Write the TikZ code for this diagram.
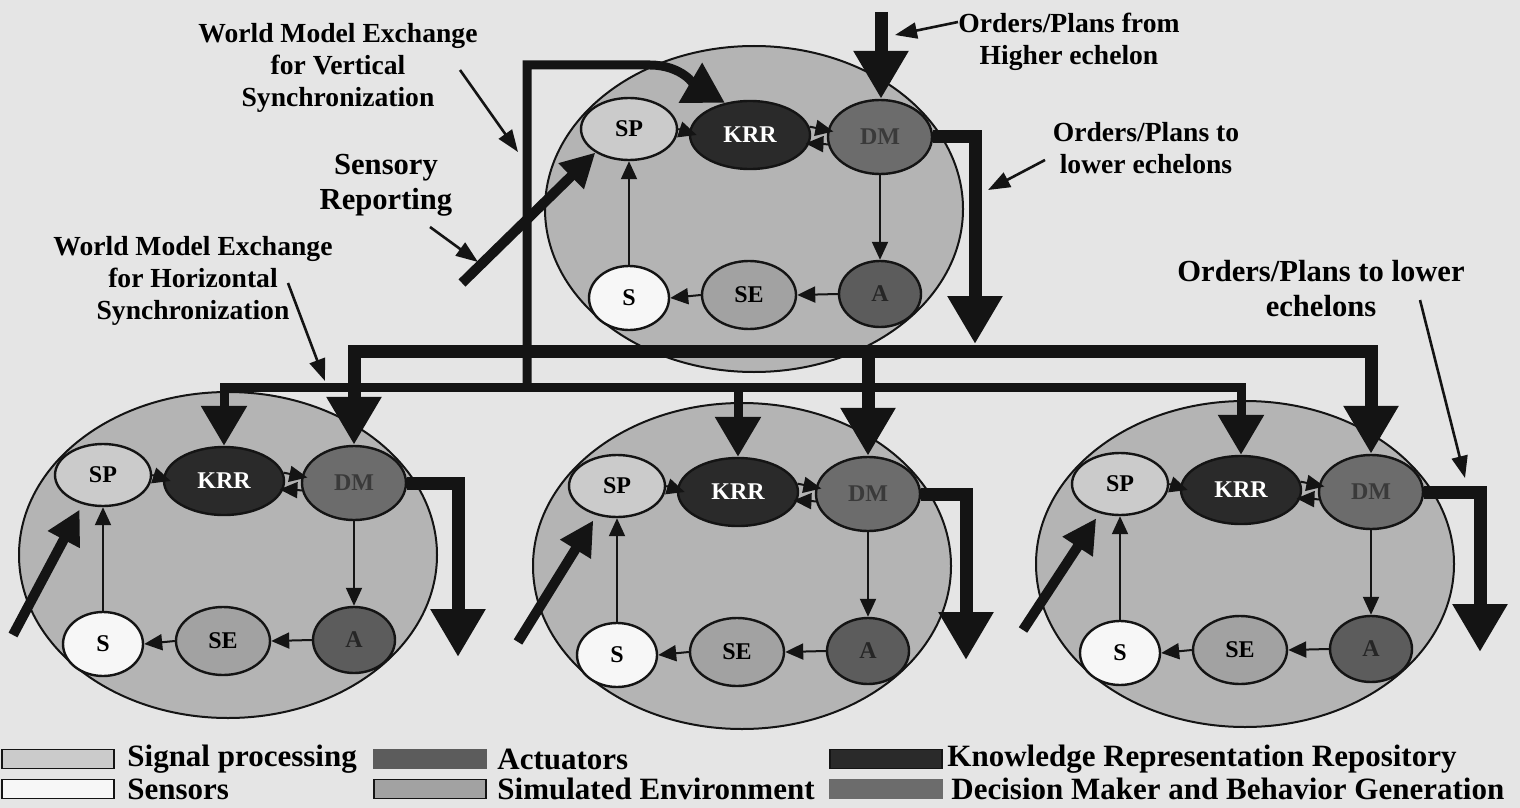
\documentclass[tikz,border=0pt]{standalone}
\usepackage{fontspec}
\setmainfont{Liberation Serif}
\usetikzlibrary{shapes.geometric,arrows.meta,calc}

\definecolor{bg}{HTML}{E5E5E5}
\definecolor{bigfill}{HTML}{B4B4B4}
\definecolor{spfill}{HTML}{CBCBCB}
\definecolor{sfill}{HTML}{F7F7F7}
\definecolor{sefill}{HTML}{A2A2A2}
\definecolor{afill}{HTML}{5C5C5C}
\definecolor{dmfill}{HTML}{6C6C6C}
\definecolor{krrfill}{HTML}{2A2A2A}
\definecolor{ink}{HTML}{141414}
\definecolor{dmtext}{HTML}{3A3A3A}

\newcommand\mkcluster[3]{%
  \node[bigell] (#1-big) at (#2,#3) {};
  \node[sub, fill=spfill, minimum width=48pt, minimum height=31pt] (#1-SP) at (#2-125,#3-80) {SP};
  \node[sub, fill=krrfill, text=white, minimum width=60pt, minimum height=34pt] (#1-KRR) at (#2-4,#3-74) {KRR};
  \node[sub, fill=dmfill, text=dmtext, minimum width=52pt, minimum height=37pt] (#1-DM) at (#2+126,#3-72) {DM};
  \node[sub, fill=sfill, minimum width=40pt, minimum height=32pt] (#1-S) at (#2-125,#3+89) {S};
  \node[sub, fill=sefill, minimum width=47pt, minimum height=34pt] (#1-SE) at (#2-5,#3+86) {SE};
  \node[sub, fill=afill, text=black!85, minimum width=41pt, minimum height=33pt] (#1-A) at (#2+126,#3+85) {A};
  \draw[inarr] (#1-SP.east) -- ([xshift=4pt]#1-KRR.west);
  \draw[inarr] (#1-KRR.8) -- ([xshift=3pt]#1-DM.174);
  \draw[inarr] (#1-DM.188) -- ([xshift=-2pt]#1-KRR.-8);
  \draw[inarr] (#1-DM.south) -- (#1-A.north);
  \draw[inarr] (#1-A.west) -- (#1-SE.east);
  \draw[inarr] (#1-SE.west) -- (#1-S.east);
  \draw[inarr] (#1-S.north) -- (#1-SP.south);
}

\begin{document}
\begin{tikzpicture}[x=0.5pt,y=-0.5pt,
  bigell/.style={ellipse, draw=ink, line width=1pt, fill=bigfill, minimum width=209pt, minimum height=163pt, inner sep=0pt},
  sub/.style={ellipse, draw=ink, line width=1.2pt, inner sep=0pt, font=\bfseries\fontsize{12}{12}\selectfont},
  inarr/.style={draw=ink, line width=1pt, -{Triangle[width=8pt,length=9pt]}},
  ptr/.style={draw=ink, line width=1.3pt, -{Triangle[width=8pt,length=11pt]}},
  ordarr/.style={draw=ink, line width=6.5pt, -{Triangle[width=26pt,length=24pt]}},
  ordline/.style={draw=ink, line width=6.5pt, line cap=rect},
  wmarr/.style={draw=ink, line width=4.5pt, -{Triangle[width=22pt,length=20pt]}},
  wmline/.style={draw=ink, line width=4.5pt, line cap=rect},
  sensarr/.style={draw=ink, line width=5pt, -{Triangle[width=17pt,length=17pt]}},
  lblS/.style={align=center, font=\bfseries\fontsize{13.8}{16}\selectfont, inner sep=0pt},
  lblL/.style={align=center, font=\bfseries\fontsize{15.3}{17.5}\selectfont, inner sep=0pt},
  legbox/.style={draw=ink, line width=0.8pt, minimum width=56pt, minimum height=9.5pt, inner sep=0pt},
  legtxt/.style={anchor=west, font=\bfseries\fontsize{15.5}{16}\selectfont, inner sep=0pt}
]
\fill[bg] (0,0) rectangle (1520,808);
\useasboundingbox (0,0) rectangle (1520,808);

% clusters
\mkcluster{T}{754}{209}
\mkcluster{L}{228}{555}
\mkcluster{M}{742}{566}
\mkcluster{R}{1245}{564}

% bus coordinates
\coordinate (busT) at (0,351);
\coordinate (busW) at (0,387);

% world model bus (horizontal synchronization)
\draw[wmline] (L-KRR.north |- busW) -- (R-KRR.north |- busW);
\foreach \c in {L,M,R} \draw[wmarr] (\c-KRR.north |- busW) -- (\c-KRR.north);

% vertical synchronization loop
\coordinate (wmV) at (527,387);
\coordinate (wmTop) at (527,65);
\coordinate (wmBend) at (650,65);
\draw[wmarr] (wmV) -- (wmTop) -- (wmBend) .. controls (682,65) and (696,86) .. (T-KRR.128);

% orders bus
\draw[ordline] (L-DM.north |- busT) -- (R-DM.north |- busT);
\foreach \c in {L,M,R} \draw[ordarr] (\c-DM.north |- busT) -- (\c-DM.north);

% orders from higher echelon
\coordinate (ordTop) at (881,12);
\draw[ordarr] (ordTop) -- (ordTop |- T-DM.north);

% DM outputs
\coordinate (TOut) at (975,344);
\coordinate (LOut) at (458,657);
\coordinate (MOut) at (966,660);
\coordinate (ROut) at (1480,652);
\draw[ordarr] (T-DM.east) -| (TOut);
\draw[ordarr] (L-DM.east) -| (LOut);
\draw[ordarr] (M-DM.east) -| (MOut);
\draw[ordarr] (R-DM.east) -| (ROut);

% sensory reporting inputs
\coordinate (sT) at (462,283);
\coordinate (sL) at (13,635);
\coordinate (sM) at (518,642);
\coordinate (sR) at (1023,630);
\draw[sensarr] (sT) -- (T-SP.215);
\draw[sensarr, shorten >=3pt] (sL) -- (L-SP.235);
\draw[sensarr, shorten >=3pt] (sM) -- (M-SP.235);
\draw[sensarr, shorten >=3pt] (sR) -- (R-SP.235);

% labels
\node[lblS] (lVert) at (338,68) {World Model Exchange\\for Vertical\\Synchronization};
\node[lblL] (lSens) at (386,185) {Sensory\\Reporting};
\node[lblS] (lHor) at (193,281) {World Model Exchange\\for Horizontal\\Synchronization};
\node[lblS] (lHigh) at (1069,42) {Orders/Plans from\\Higher echelon};
\node[lblS] (lLow1) at (1146,148) {Orders/Plans to\\lower echelons};
\node[lblL] (lLow2) at (1321,289) {Orders/Plans to lower\\echelons};

% label pointers
\coordinate (pv1) at (460,70);   \coordinate (pv2) at (518,152);
\coordinate (ps1) at (430,227);  \coordinate (ps2) at (478,262);
\coordinate (ph1) at (288,283);  \coordinate (ph2) at (325,381);
\coordinate (po1) at (958,22);   \coordinate (po2) at (895,35);
\coordinate (pl1) at (1045,160); \coordinate (pl2) at (988,190);
\coordinate (pr1) at (1420,300); \coordinate (pr2) at (1465,478);
\draw[ptr] (pv1) -- (pv2);
\draw[ptr] (ps1) -- (ps2);
\draw[ptr] (ph1) -- (ph2);
\draw[ptr] (po1) -- (po2);
\draw[ptr] (pl1) -- (pl2);
\draw[ptr] (pr1) -- (pr2);

% legend
\node[legbox, fill=spfill] (lg1) at (58,759) {};
\node[legtxt] (lt1) at (127,759) {Signal processing};
\node[legbox, fill=sfill] (lg2) at (58,789) {};
\node[legtxt] (lt2) at (127,789) {Sensors};
\node[legbox, fill=afill, draw=afill] (lg3) at (430,759) {};
\node[legtxt] (lt3) at (497,759) {Actuators};
\node[legbox, fill=sefill] (lg4) at (430,789) {};
\node[legtxt] (lt4) at (497,789) {Simulated Environment};
\node[legbox, fill=krrfill] (lg5) at (886,759) {};
\node[legtxt] (lt5) at (947,759) {Knowledge Representation Repository};
\node[legbox, fill=dmfill, draw=dmfill] (lg6) at (886,789) {};
\node[legtxt] (lt6) at (951,789) {Decision Maker and Behavior Generation};
\end{tikzpicture}
\end{document}
